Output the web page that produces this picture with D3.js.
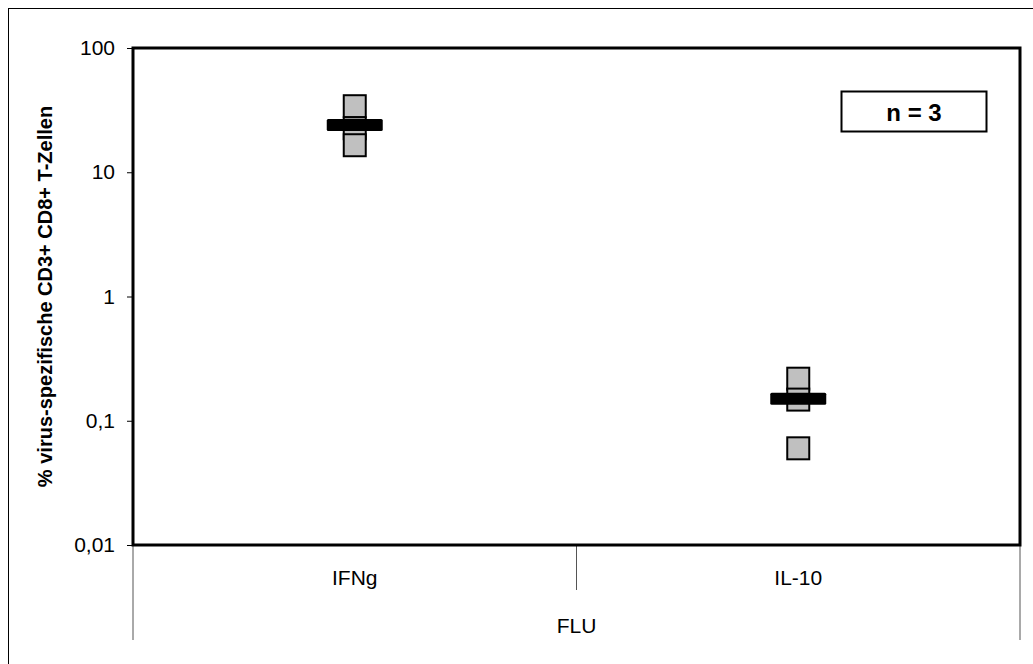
<!DOCTYPE html>
<html>
<head>
<meta charset="utf-8">
<script src="https://cdn.jsdelivr.net/npm/d3@7"></script>
<style>
  body { margin: 0; background: #fff; }
  text { font-family: "Liberation Sans", Arial, sans-serif; }
</style>
</head>
<body>
<div id="chart"></div>
<script>
// data
var categories = ["IFNg", "IL-10"];
var groupLabel = "FLU";
var ifngValues = [34, 22.6, 16.5];
var il10Values = [0.218, 0.148, 0.06];
var means = [24, 0.15];
var yTicks = [0.01, 0.1, 1, 10, 100];
var yTickLabels = ["0,01", "0,1", "1", "10", "100"];
var yTitle = "% virus-spezifische CD3+ CD8+ T-Zellen";
var nLabel = "n = 3";

var series = [ifngValues, il10Values];

var margin = { top: 48, right: 13, bottom: 119, left: 133 },
  width = 1033 - margin.left - margin.right,
  height = 664 - margin.top - margin.bottom;

var svg = d3.select("#chart")
  .append("svg")
  .attr("width", 1033)
  .attr("height", 664);

// outer chart frame
svg.append("rect")
  .attr("x", 8.5)
  .attr("y", 8.5)
  .attr("width", 1100)
  .attr("height", 700)
  .attr("fill", "none")
  .attr("stroke", "#000")
  .attr("stroke-width", 1);

var g = svg.append("g")
  .attr("transform", "translate(" + margin.left + "," + margin.top + ")");

var x = d3.scaleBand()
  .domain(categories)
  .range([0, width])
  .padding(0);

var y = d3.scaleLog()
  .domain([0.01, 100])
  .range([height, 0]);

// y axis
var yAxis = g.append("g")
  .call(d3.axisLeft(y)
    .tickValues(yTicks)
    .tickSize(6)
    .tickPadding(12)
    .tickFormat(function (d, i) { return yTickLabels[i]; }));
yAxis.select(".domain").remove();
yAxis.selectAll("line").attr("stroke", "#000").attr("stroke-width", 1);
yAxis.selectAll("text")
  .style("font-size", "21px")
  .style("font-family", "'Liberation Sans', Arial, sans-serif")
  .attr("fill", "#000");

// category axis lines (thin gray)
var catLines = [0, width / 2, width];
g.selectAll(".catline")
  .data(catLines)
  .enter()
  .append("line")
  .attr("x1", function (d) { return d; })
  .attr("x2", function (d) { return d; })
  .attr("y1", height)
  .attr("y2", function (d, i) { return i === 1 ? height + 45 : height + 95; })
  .attr("stroke", "#555")
  .attr("stroke-width", 1);

// category labels
g.selectAll(".catlabel")
  .data(categories)
  .enter()
  .append("text")
  .attr("x", function (d) { return x(d) + x.bandwidth() / 2; })
  .attr("y", height + 40)
  .attr("text-anchor", "middle")
  .style("font-size", "21px")
  .text(function (d) { return d; });

g.append("text")
  .attr("x", width / 2)
  .attr("y", height + 88)
  .attr("text-anchor", "middle")
  .style("font-size", "21px")
  .text(groupLabel);

// plot frame
g.append("rect")
  .attr("x", 0)
  .attr("y", 0)
  .attr("width", width)
  .attr("height", height)
  .attr("fill", "none")
  .attr("stroke", "#000")
  .attr("stroke-width", 3);

// data squares
var sq = 22;
series.forEach(function (vals, i) {
  var cx = x(categories[i]) + x.bandwidth() / 2;
  g.selectAll(".pt" + i)
    .data(vals)
    .enter()
    .append("rect")
    .attr("x", cx - sq / 2)
    .attr("y", function (d) { return y(d) - sq / 2; })
    .attr("width", sq)
    .attr("height", sq)
    .attr("fill", "#c0c0c0")
    .attr("stroke", "#000")
    .attr("stroke-width", 2);
});

// mean bars
g.selectAll(".mean")
  .data(means)
  .enter()
  .append("rect")
  .attr("x", function (d, i) { return x(categories[i]) + x.bandwidth() / 2 - 28; })
  .attr("y", function (d) { return y(d) - 6; })
  .attr("width", 56)
  .attr("height", 12)
  .attr("rx", 1.5)
  .attr("fill", "#000");

// n = 3 box
g.append("rect")
  .attr("x", 708.5)
  .attr("y", 43.5)
  .attr("width", 145)
  .attr("height", 40)
  .attr("fill", "#fff")
  .attr("stroke", "#000")
  .attr("stroke-width", 2);
g.append("text")
  .attr("x", 781)
  .attr("y", 72.5)
  .attr("text-anchor", "middle")
  .style("font-size", "24px")
  .style("font-weight", "bold")
  .text(nLabel);

// y title
svg.append("text")
  .attr("transform", "rotate(-90)")
  .attr("x", -(margin.top + height / 2))
  .attr("y", 52)
  .attr("text-anchor", "middle")
  .style("font-size", "20px")
  .style("font-weight", "bold")
  .text(yTitle);
</script>
</body>
</html>
